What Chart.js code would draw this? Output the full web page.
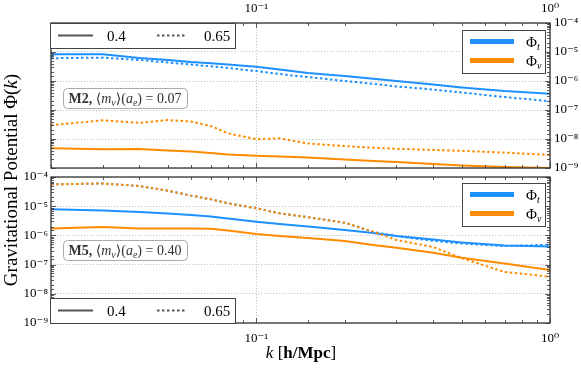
<!DOCTYPE html>
<html lang="en">
<head>
<meta charset="UTF-8">
<title>Gravitational Potential</title>
<script src="https://cdn.jsdelivr.net/npm/chart.js"></script>
<style>
  body { margin: 0; background: #fff; }
  #wrap { position: relative; width: 581px; height: 368px; }
  canvas { position: absolute; left: 0; top: 0; }
</style>
</head>
<body>
<div id="wrap">
  <canvas id="topChart" width="581" height="368"></canvas>
  <canvas id="botChart" width="581" height="368"></canvas>
</div>
<script>
// k in h/Mpc
const kValues = [0.02, 0.03, 0.04, 0.05, 0.06, 0.07, 0.08, 0.1, 0.12, 0.15, 0.2, 0.25, 0.3, 0.4, 0.5, 0.7, 1.0];

// M2 panel
const m2PhiT_04  = [8.3e-6, 8.3e-6, 6.2e-6, 5.3e-6, 4.5e-6, 4.1e-6, 3.7e-6, 3.1e-6, 2.5e-6, 1.9e-6, 1.49e-6, 1.2e-6, 1.0e-6, 7.6e-7, 6.0e-7, 4.5e-7, 3.6e-7];
const m2PhiT_065 = [6.1e-6, 6.4e-6, 5.3e-6, 4.35e-6, 3.7e-6, 3.2e-6, 2.8e-6, 2.2e-6, 1.74e-6, 1.37e-6, 1.0e-6, 8.0e-7, 6.5e-7, 5.1e-7, 4.0e-7, 2.8e-7, 2.0e-7];
const m2PhiN_04  = [4.8e-9, 4.4e-9, 4.5e-9, 4.0e-9, 3.7e-9, 3.3e-9, 2.9e-9, 2.65e-9, 2.5e-9, 2.3e-9, 1.96e-9, 1.75e-9, 1.6e-9, 1.37e-9, 1.22e-9, 1.08e-9, 1.0e-9];
const m2PhiN_065 = [3.0e-8, 4.4e-8, 3.6e-8, 4.5e-8, 4.0e-8, 2.8e-8, 1.58e-8, 9.8e-9, 1.06e-8, 7.0e-9, 5.7e-9, 5.0e-9, 4.6e-9, 4.2e-9, 3.9e-9, 3.4e-9, 2.8e-9];

// M5 panel
const m5PhiT_04  = [7.8e-6, 7.1e-6, 6.3e-6, 5.6e-6, 5.0e-6, 4.4e-6, 3.8e-6, 2.95e-6, 2.45e-6, 2.0e-6, 1.53e-6, 1.2e-6, 9.5e-7, 7.2e-7, 5.7e-7, 4.5e-7, 4.17e-7];
const m5PhiT_065 = [5.6e-5, 6.0e-5, 4.9e-5, 3.4e-5, 2.3e-5, 1.72e-5, 1.26e-5, 8.5e-6, 5.7e-6, 4.2e-6, 2.72e-6, 1.3e-6, 9.5e-7, 6.5e-7, 5.3e-7, 4.3e-7, 4.8e-7];
const m5PhiN_04  = [1.72e-6, 1.94e-6, 1.72e-6, 1.72e-6, 1.72e-6, 1.7e-6, 1.47e-6, 1.12e-6, 9.5e-7, 8.1e-7, 6.4e-7, 4.7e-7, 3.8e-7, 2.56e-7, 1.72e-7, 1.1e-7, 6.5e-8];
const m5PhiN_065 = [5.6e-5, 6.0e-5, 4.9e-5, 3.4e-5, 2.3e-5, 1.72e-5, 1.26e-5, 8.5e-6, 5.7e-6, 4.2e-6, 2.72e-6, 1.34e-6, 6.95e-7, 4.0e-7, 1.68e-7, 5.6e-8, 3.85e-8];

// tick labels
const xMajorTicks  = [0.1, 1];
const xMajorLabels = ['10⁻¹', '10⁰'];
const yMajorTicks  = [1e-9, 1e-8, 1e-7, 1e-6, 1e-5, 1e-4];
const yMajorLabels = ['10⁻⁹', '10⁻⁸', '10⁻⁷', '10⁻⁶', '10⁻⁵', '10⁻⁴'];

const BLUE = '#1E90FF';
const ORANGE = '#FF8C00';
const SERIF = '"Liberation Serif", "DejaVu Serif", serif';

function majorIndex(v, majors) {
    return majors.findIndex(m => Math.abs(Math.log10(v) - Math.log10(m)) < 1e-6);
}

function series(values, color, dotted) {
    return {
        data: kValues.map((k, i) => ({ x: k, y: values[i] })),
        borderColor: color,
        borderWidth: 2,
        borderDash: dotted ? [2.5, 2.5] : [],
        pointRadius: 0,
        tension: 0,
        fill: false
    };
}

function axisX(pos, size, pad) {
    return {
        type: 'logarithmic', position: pos, min: 0.02, max: 1,
        afterFit: s => { s.height = size; },
        border: { display: false, dash: [1.2, 1.8] },
        grid: {
            drawTicks: false, lineWidth: 0.8,
            color: c => majorIndex(c.tick.value, xMajorTicks) >= 0 ? '#b5b5b5' : 'rgba(0,0,0,0)'
        },
        ticks: {
            autoSkip: false, maxRotation: 0, padding: pad, color: '#000',
            font: { family: SERIF, size: 13 },
            callback: v => { const i = majorIndex(v, xMajorTicks); return i >= 0 ? xMajorLabels[i] : ''; }
        }
    };
}

function axisY(pos, size, pad) {
    return {
        type: 'logarithmic', position: pos, min: 1e-9, max: 1e-4,
        afterFit: s => { s.width = size; },
        border: { display: false, dash: [1.2, 1.8] },
        grid: {
            drawTicks: false, lineWidth: 0.8,
            color: c => majorIndex(c.tick.value, yMajorTicks) >= 0 ? '#b5b5b5' : 'rgba(0,0,0,0)'
        },
        ticks: {
            autoSkip: false, padding: pad, color: '#000',
            font: { family: SERIF, size: 13 },
            callback: v => { const i = majorIndex(v, yMajorTicks); return i >= 0 ? yMajorLabels[i] : ''; }
        }
    };
}

// mixed-style text pieces: [text, style, sizeScale, dy]
function drawPieces(ctx, pieces, x, y, size, align) {
    let total = 0;
    const widths = pieces.map(p => {
        ctx.font = (p[1] || '') + ' ' + Math.round(size * (p[2] || 1)) + 'px ' + SERIF;
        const w = ctx.measureText(p[0]).width;
        total += w;
        return w;
    });
    let cx = align === 'center' ? x - total / 2 : x;
    pieces.forEach((p, i) => {
        ctx.font = (p[1] || '') + ' ' + Math.round(size * (p[2] || 1)) + 'px ' + SERIF;
        ctx.fillText(p[0], cx, y + (p[3] || 0));
        cx += widths[i];
    });
}

function styleLegend(ctx, x0, y0) {
    ctx.save();
    ctx.fillStyle = '#fff';
    ctx.fillRect(x0, y0, 185, 25);
    ctx.strokeStyle = '#444';
    ctx.lineWidth = 1;
    ctx.strokeRect(x0 + 0.5, y0 + 0.5, 185, 25);
    ctx.strokeStyle = '#555';
    ctx.lineWidth = 2;
    ctx.beginPath(); ctx.moveTo(x0 + 8, y0 + 12.5); ctx.lineTo(x0 + 43, y0 + 12.5); ctx.stroke();
    ctx.setLineDash([2.5, 2.5]);
    ctx.beginPath(); ctx.moveTo(x0 + 107, y0 + 12.5); ctx.lineTo(x0 + 137, y0 + 12.5); ctx.stroke();
    ctx.setLineDash([]);
    ctx.fillStyle = '#000';
    ctx.textBaseline = 'alphabetic';
    ctx.font = '15px ' + SERIF;
    ctx.fillText('0.4', x0 + 57, y0 + 18);
    ctx.fillText('0.65', x0 + 154, y0 + 18);
    ctx.restore();
}

function colorLegend(ctx, x0, y0) {
    ctx.save();
    ctx.fillStyle = '#fff';
    ctx.fillRect(x0, y0, 83, 43);
    ctx.strokeStyle = '#444';
    ctx.lineWidth = 1;
    ctx.strokeRect(x0 + 0.5, y0 + 0.5, 83, 43);
    ctx.lineWidth = 5;
    ctx.strokeStyle = BLUE;
    ctx.beginPath(); ctx.moveTo(x0 + 8, y0 + 11.5); ctx.lineTo(x0 + 52, y0 + 11.5); ctx.stroke();
    ctx.strokeStyle = ORANGE;
    ctx.beginPath(); ctx.moveTo(x0 + 8, y0 + 30.5); ctx.lineTo(x0 + 52, y0 + 30.5); ctx.stroke();
    ctx.fillStyle = '#000';
    ctx.textBaseline = 'alphabetic';
    drawPieces(ctx, [['Φ', ''], ['t', 'italic', 0.65, 3]], x0 + 64, y0 + 17, 15, 'left');
    drawPieces(ctx, [['Φ', ''], ['ν', 'italic', 0.65, 3]], x0 + 64, y0 + 36, 15, 'left');
    ctx.restore();
}

function annotation(ctx, x0, y0, model, mass) {
    ctx.save();
    ctx.fillStyle = 'rgba(255,255,255,0.85)';
    ctx.strokeStyle = '#aaa';
    ctx.lineWidth = 1;
    ctx.beginPath();
    ctx.roundRect(x0 + 0.5, y0 + 0.5, 124, 20, 4);
    ctx.fill(); ctx.stroke();
    ctx.fillStyle = '#333';
    ctx.textBaseline = 'alphabetic';
    drawPieces(ctx, [
        [model + ', ', 'bold'], ['⟨', ''], ['m', 'italic'], ['ν', 'italic', 0.7, 2.5], ['⟩(', ''],
        ['a', 'italic'], ['e', 'italic', 0.7, 2.5], [') = ' + mass, '']
    ], x0 + 62, y0 + 15, 14, 'center');
    ctx.restore();
}

function frameAndTicks(chart) {
    const ctx = chart.ctx, a = chart.chartArea;
    const xs = chart.scales.x, ys = chart.scales.y;
    ctx.save();
    ctx.strokeStyle = '#333';
    ctx.lineWidth = 0.8;
    xs.ticks.forEach(t => {
        const px = Math.round(xs.getPixelForValue(t.value)) + 0.5;
        const len = majorIndex(t.value, xMajorTicks) >= 0 ? 5 : 3;
        ctx.beginPath();
        ctx.moveTo(px, a.top); ctx.lineTo(px, a.top + len);
        ctx.moveTo(px, a.bottom); ctx.lineTo(px, a.bottom - len);
        ctx.stroke();
    });
    ys.ticks.forEach(t => {
        const py = Math.round(ys.getPixelForValue(t.value)) + 0.5;
        const len = majorIndex(t.value, yMajorTicks) >= 0 ? 5 : 3;
        ctx.beginPath();
        ctx.moveTo(a.left, py); ctx.lineTo(a.left + len, py);
        ctx.moveTo(a.right, py); ctx.lineTo(a.right - len, py);
        ctx.stroke();
    });
    ctx.lineWidth = 1.3;
    ctx.strokeRect(a.left, a.top, a.right - a.left, a.bottom - a.top);
    ctx.restore();
}

const topDecor = {
    id: 'topDecor',
    afterDraw(chart) {
        frameAndTicks(chart);
        const ctx = chart.ctx;
        styleLegend(ctx, 50, 23);
        colorLegend(ctx, 462, 30);
        annotation(ctx, 63, 88, 'M2', '0.07');
    }
};

const botDecor = {
    id: 'botDecor',
    afterDraw(chart) {
        frameAndTicks(chart);
        const ctx = chart.ctx;
        styleLegend(ctx, 50, 298);
        colorLegend(ctx, 462, 183);
        annotation(ctx, 63, 240, 'M5', '0.40');

        ctx.save();
        ctx.fillStyle = '#000';
        ctx.textBaseline = 'alphabetic';
        // x title
        drawPieces(ctx, [['k', 'italic'], [' [', ''], ['h/Mpc', 'bold'], [']', '']], 301, 358, 17, 'center');
        // y title
        ctx.translate(17, 180);
        ctx.rotate(-Math.PI / 2);
        drawPieces(ctx, [['Gravitational Potential Φ(', ''], ['k', 'italic'], [')', '']], 0, 0, 19, 'center');
        ctx.restore();
    }
};

function makeChart(id, datasets, scales, padding, plugin) {
    return new Chart(document.getElementById(id), {
        type: 'line',
        data: { datasets: datasets },
        options: {
            responsive: false,
            animation: false,
            devicePixelRatio: 1,
            parsing: false,
            layout: { padding: padding },
            plugins: { legend: { display: false }, tooltip: { enabled: false } },
            scales: scales
        },
        plugins: [plugin]
    });
}

makeChart('topChart', [
    series(m2PhiT_04, BLUE, false),
    series(m2PhiT_065, BLUE, true),
    series(m2PhiN_04, ORANGE, false),
    series(m2PhiN_065, ORANGE, true)
], { x: axisX('top', 23, 7), y: axisY('right', 31, 4) },
   { left: 51, top: 0, right: 0, bottom: 200 }, topDecor);

makeChart('botChart', [
    series(m5PhiN_065, ORANGE, true),
    series(m5PhiT_065, BLUE, true),
    series(m5PhiT_04, BLUE, false),
    series(m5PhiN_04, ORANGE, false)
], { x: axisX('bottom', 45, 8), y: axisY('left', 51, 3) },
   { left: 0, top: 177, right: 31, bottom: 0 }, botDecor);
</script>
</body>
</html>
